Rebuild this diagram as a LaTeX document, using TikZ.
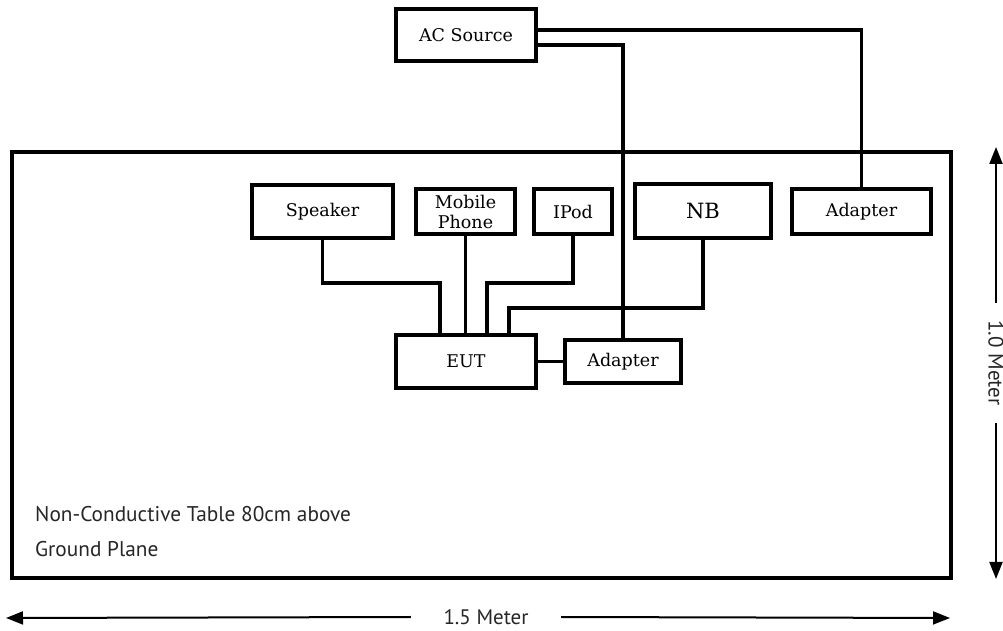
\documentclass[tikz,border=0pt]{standalone}
\usepackage{fontspec}
\newfontfamily\boxfont{DejaVu Serif}
\newfontfamily\labfont{PT Sans}
\usetikzlibrary{arrows.meta}
\definecolor{notegray}{gray}{0.15}
\tikzset{
  dev/.style={draw, line width=4pt, inner sep=0pt, align=center,
    font=\boxfont\fontsize{17.5}{20}\selectfont},
  wire/.style={line width=3.6pt},
  dimline/.style={line width=2pt, -{Triangle[length=17pt,width=13pt]}},
  dimlabel/.style={inner sep=0pt, text=notegray, font=\labfont\fontsize{21}{24}\selectfont},
  note/.style={anchor=base west, inner sep=0pt, text=notegray, font=\labfont\fontsize{21.3}{24}\selectfont}
}
\begin{document}
\begin{tikzpicture}[x=1pt,y=1pt]
\useasboundingbox (0,0) rectangle (1003,631);
% table
\draw[line width=4pt] (12,53) rectangle (951,479);
% devices
\node[dev, minimum width=140pt, minimum height=52pt] (ac) at (466,596) {AC Source};
\node[dev, minimum width=141pt, minimum height=53pt] (spk) at (322.5,419.5) {Speaker};
\node[dev, minimum width=99pt, minimum height=45pt] (mob) at (465.5,419.5) {Mobile\\Phone};
\node[dev, minimum width=78pt, minimum height=45pt] (ipod) at (573,419.5) {IPod};
\node[dev, minimum width=136pt, minimum height=54pt, font=\boxfont\fontsize{21}{24}\selectfont] (nb) at (703,420) {NB};
\node[dev, minimum width=139pt, minimum height=45pt] (adR) at (861.5,419.5) {Adapter};
\node[dev, minimum width=140pt, minimum height=53pt] (eut) at (466,269.5) {EUT};
\node[dev, minimum width=116pt, minimum height=43pt] (adL) at (623,269.5) {Adapter};
% wire bends
\coordinate (k1) at (440,348);
\coordinate (k2) at (487,348);
\coordinate (k3) at (509,323);
% wires
\draw[wire] ([yshift=5pt]ac.east) -| (adR.north);
\draw[wire] ([yshift=-10pt]ac.east) -| (adL.north);
\draw[wire] (adL.west) -- (eut.east);
\draw[wire] (spk.south) |- (k1) -- (k1 |- eut.north);
\draw[wire] (mob.south) -- (mob.south |- eut.north);
\draw[wire] (ipod.south) |- (k2) -- (k2 |- eut.north);
\draw[wire] (nb.south) |- (k3) -- (k3 |- eut.north);
% notes
\node[note] (n1) at (35,109) {Non-Conductive Table 80cm above};
\node[note] (n2) at (35,74) {Ground Plane};
% dimensions
\coordinate (hl) at (6,13);
\coordinate (hr) at (950,13);
\node[dimlabel, minimum width=150pt] (hdim) at (486,14) {1.5 Meter};
\draw[dimline] (hdim.west) -- (hl);
\draw[dimline] (hdim.east) -- (hr);
\coordinate (vt) at (996,484);
\coordinate (vb) at (996,52);
\node[dimlabel, rotate=-90, minimum width=120pt] (vdim) at (996,268) {1.0 Meter};
\draw[dimline] (vdim.west) -- (vt);
\draw[dimline] (vdim.east) -- (vb);
\end{tikzpicture}
\end{document}
